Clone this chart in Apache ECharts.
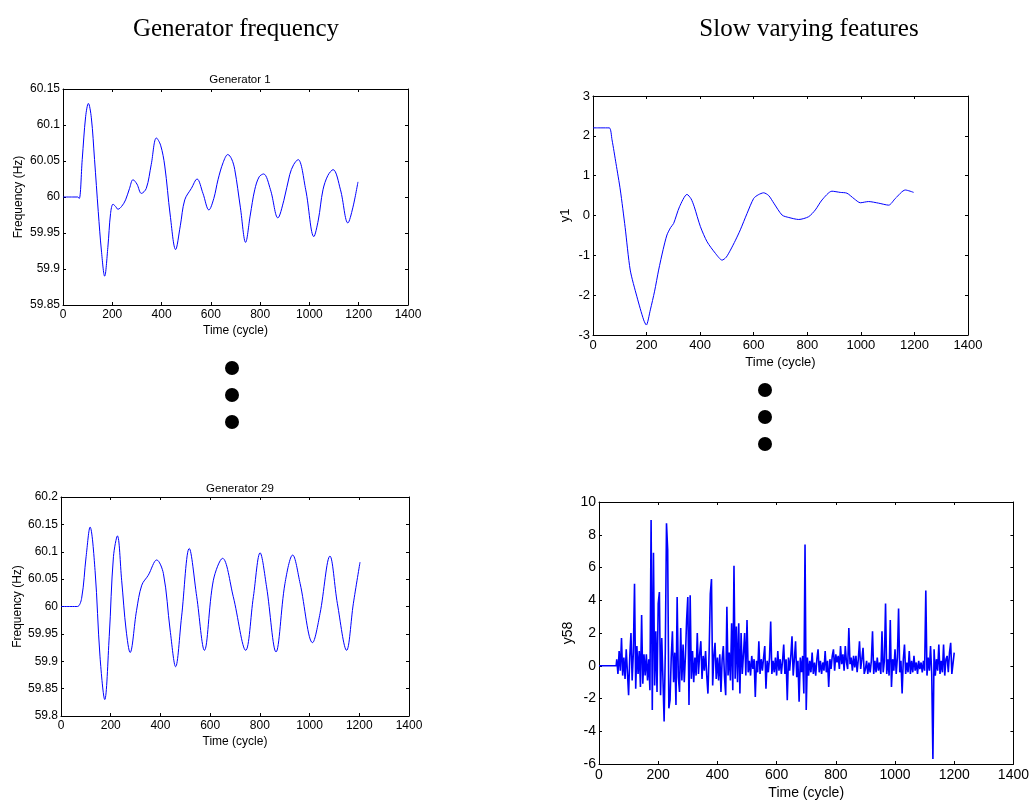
<!DOCTYPE html>
<html>
<head>
<meta charset="utf-8">
<script src="https://cdn.jsdelivr.net/npm/echarts@6/dist/echarts.min.js"></script>
<style>html,body{margin:0;padding:0;background:#fff;}#c{width:1032px;height:802px;}</style>
</head>
<body>
<div id="c"></div>
<script>
// ---- Data ----
const xTicks = [0, 200, 400, 600, 800, 1000, 1200, 1400];
const gen1Time = [0, 40, 60, 66, 78, 92, 103, 115, 128, 143, 156, 169, 182, 193, 203, 213, 223, 238, 254, 270, 284, 300, 318, 338, 358, 379, 396, 413, 435, 457, 476, 494, 521, 544, 568, 592, 612, 629, 650, 669, 684, 697, 720, 741, 760, 778, 796, 814, 842, 872, 896, 920, 936, 954, 985, 1018, 1036, 1055, 1075, 1096, 1126, 1156, 1176, 1197];
const gen1Freq = [60, 60, 60, 59.998, 60.052, 60.112, 60.130, 60.110, 60.052, 59.980, 59.925, 59.890, 59.930, 59.977, 59.990, 59.987, 59.983, 59.987, 59.996, 60.012, 60.024, 60.018, 60.005, 60.012, 60.045, 60.082, 60.072, 60.043, 59.975, 59.927, 59.960, 59.996, 60.012, 60.025, 60.005, 59.982, 59.998, 60.024, 60.048, 60.059, 60.053, 60.038, 59.985, 59.937, 59.975, 60.010, 60.028, 60.032, 60.010, 59.971, 59.995, 60.031, 60.045, 60.052, 60.010, 59.945, 59.968, 60.010, 60.030, 60.038, 60.010, 59.964, 59.985, 60.021];
const gen29Time = [0, 40, 66, 83, 101, 117, 137, 157, 176, 194, 211, 227, 244, 262, 278, 304, 325, 351, 385, 412, 439, 461, 485, 516, 546, 577, 613, 650, 693, 743, 774, 801, 827, 865, 901, 932, 962, 1012, 1042, 1082, 1112, 1149, 1176, 1203];
const gen29Freq = [60, 60, 60, 60.015, 60.091, 60.145, 60.066, 59.908, 59.830, 59.945, 60.091, 60.129, 60.048, 59.957, 59.916, 59.993, 60.039, 60.057, 60.085, 60.060, 59.957, 59.890, 59.981, 60.106, 60.018, 59.920, 60.048, 60.088, 60.018, 59.920, 60.018, 60.098, 60.036, 59.917, 60.042, 60.094, 60.042, 59.934, 59.987, 60.092, 60.005, 59.920, 60.005, 60.081];
const y1Time = [0, 30, 61, 71, 86, 102, 120, 139, 164, 189, 199, 214, 230, 245, 262, 276, 290, 301, 323, 351, 366, 378, 401, 426, 457, 482, 497, 513, 532, 550, 575, 600, 617, 637, 656, 675, 706, 731, 768, 805, 830, 855, 892, 923, 948, 975, 998, 1029, 1066, 1104, 1129, 1166, 1197];
const y1Value = [2.2, 2.2, 2.2, 1.9, 1.3, 0.64, -0.3, -1.37, -2.04, -2.62, -2.75, -2.37, -1.9, -1.37, -0.85, -0.49, -0.3, -0.2, 0.22, 0.53, 0.42, 0.22, -0.28, -0.66, -0.95, -1.12, -1.05, -0.87, -0.62, -0.36, 0.05, 0.43, 0.52, 0.57, 0.50, 0.31, 0.01, -0.05, -0.10, -0.03, 0.14, 0.39, 0.61, 0.58, 0.56, 0.42, 0.32, 0.35, 0.31, 0.26, 0.43, 0.64, 0.58];
const y58Lead = [[0, 0], [58, 0]];
const y58Start = 60;
const y58Step = 4;
const y58Value = [
  0.4, -0.5, 0.9, -0.3, 1.7, -0.6, 0.5, -0.8, 1.0, -0.4,
  -1.8, 0.6, 2.0, -0.9, 0.8, 5.0, -1.4, 1.2, -0.5, 0.9,
  -1.3, 3.1, -1.1, 0.7, -0.6, 0.7, -0.9, 0.4, -1.5, 8.9,
  -2.7, 6.9, -1.2, 2.1, -1.6, 3.8, 4.5, -1.8, 1.7, -0.8,
  -3.4, 0.9, 8.7, 7.1, -2.6, -2.1, 0.5, 2.1, -1.0, 0.8,
  -2.4, 4.2, -0.7, -1.6, 2.3, -0.9, 1.3, -1.0, 0.6, 2.8,
  4.2, -2.4, 4.3, -0.8, 0.9, -1.0, 0.5, -0.6, 2.0, -0.5,
  0.7, 1.5, -0.8, 0.6, -0.3, 0.9, -0.6, -1.7, 0.8, 4.4,
  5.3, -1.2, 0.6, 1.4, -0.8, 0.5, -0.9, 0.7, -1.6, 0.4,
  1.2, -0.7, -1.8, 3.6, -0.6, 0.8, -0.9, 2.6, -1.5, 6.1,
  -0.8, 2.4, -1.0, 2.6, -1.7, 2.0, -0.5, 0.7, 2.0, -0.6,
  2.8, -0.4, 0.3, -0.6, 0.6, -0.2, 0.4, -1.9, 0.3, -0.4,
  1.5, -0.5, 0.4, -0.3, 0.5, 1.2, -1.4, 0.3, -0.4, 0.5,
  2.7, -0.5, 0.3, -0.4, 0.5, -0.6, 0.9, -0.3, 0.4, -0.5,
  0.3, 1.3, -0.5, 0.4, -2.1, 0.5, -0.3, 0.6, 1.8, -0.6,
  0.4, 1.5, -0.7, 0.3, -2.2, 0.5, -0.4, 0.6, -1.7, 7.4,
  -2.7, 0.5, -0.6, 0.3, -0.4, 0.8, -0.5, 0.2, -0.6, 0.4,
  1.0, -0.4, 0.3, -0.5, 0.2, -0.3, 0.9, -0.4, 0.3, -1.3,
  0.4, -0.2, 0.6, 1.0, -0.3, 0.7, 0.2, 0.6, -0.2, 1.2,
  0.1, 0.7, -0.3, 1.2, 0.2, -0.2, 2.3, 0.1, 0.5, -0.3,
  0.6, -0.1, 0.6, -0.4, 0.4, 1.5, -0.2, 0.4, 1.1, -0.5,
  -0.2, 0.3, -0.5, 0.2, -0.4, 0.3, 2.1, -0.5, 0.3, -0.4,
  0.5, -0.3, 0.2, -0.5, 2.1, -0.4, 0.3, 3.8, -0.5, 0.4,
  -0.6, 2.8, -1.3, 0.4, -0.3, 1.0, -0.5, 0.5, 3.5, -0.4,
  0.3, -1.7, 0.4, 1.3, -0.5, 0.2, -0.4, 0.9, -0.5, 0.3,
  -0.4, 0.6, -0.3, 0.2, -0.5, 0.3, -0.2, 0.2, -0.4, 0.3,
  -0.3, 4.6, -0.6, 0.5, -0.3, 1.2, -0.5, -5.7, 1.0, -0.6,
  0.4, -0.3, 1.3, -0.5, 0.3, -0.4, 1.3, -0.6, 0.4, 0.6,
  -0.4, 0.8, 1.4, -0.5, -0.6, 0.8
];

// ---- Build ----
const pair = (t, v) => t.map((x, i) => [x, v[i]]);
const y58Data = y58Lead.concat(y58Value.map((v, i) => [y58Start + i * y58Step, v]));

const grids = [
  {left: 63, top: 89, width: 345, height: 216},
  {left: 61, top: 497, width: 348, height: 219},
  {left: 593, top: 96, width: 375, height: 239},
  {left: 599, top: 502, width: 417, height: 262}
];
const yCfg = [
  {min: 59.85, max: 60.15, interval: 0.05, name: 'Frequency (Hz)', gap: 38, fs: 12, xgap: 20},
  {min: 59.8, max: 60.2, interval: 0.05, name: 'Frequency (Hz)', gap: 37, fs: 12, xgap: 20},
  {min: -3, max: 3, interval: 1, name: 'y1', gap: 21, fs: 13, xgap: 21},
  {min: -6, max: 10, interval: 2, name: 'y58', gap: 24, fs: 14, xgap: 22}
];
const font = 'Liberation Sans, Arial, sans-serif';
const serif = 'Liberation Serif, Times New Roman, serif';
const lineStyle = {color: '#000', width: 1};
const fmt = v => String(+v.toFixed(4));
const xAxes = [], yAxes = [];
grids.forEach((g, i) => {
  const fs = yCfg[i].fs;
  xAxes.push({
    type: 'value', gridIndex: i, min: 0, max: 1400, interval: 200, position: 'bottom',
    name: 'Time (cycle)', nameLocation: 'middle', nameGap: yCfg[i].xgap,
    nameTextStyle: {fontFamily: font, fontSize: fs, color: '#000'},
    axisLine: {show: true, onZero: false, lineStyle},
    axisTick: {inside: true, length: 3, lineStyle},
    axisLabel: {fontFamily: font, fontSize: fs, color: '#000', margin: 4, formatter: fmt},
    splitLine: {show: false}
  });
  xAxes.push({
    type: 'value', gridIndex: i, min: 0, max: 1400, interval: 200, position: 'top',
    axisLine: {show: true, onZero: false, lineStyle},
    axisTick: {inside: true, length: 3, lineStyle},
    axisLabel: {show: false}, splitLine: {show: false}
  });
  yAxes.push({
    type: 'value', gridIndex: i, min: yCfg[i].min, max: yCfg[i].max, interval: yCfg[i].interval,
    position: 'left', name: yCfg[i].name, nameLocation: 'middle', nameGap: yCfg[i].gap,
    nameTextStyle: {fontFamily: font, fontSize: fs, color: '#000'},
    axisLine: {show: true, onZero: false, lineStyle},
    axisTick: {inside: true, length: 3, lineStyle},
    axisLabel: {fontFamily: font, fontSize: fs, color: '#000', margin: 3, formatter: fmt},
    splitLine: {show: false}
  });
  yAxes.push({
    type: 'value', gridIndex: i, min: yCfg[i].min, max: yCfg[i].max, interval: yCfg[i].interval,
    position: 'right',
    axisLine: {show: true, onZero: false, lineStyle},
    axisTick: {inside: true, length: 3, lineStyle},
    axisLabel: {show: false}, splitLine: {show: false}
  });
});
const blue = {color: '#0000ff', width: 1};
const dot = (x, y) => ({type: 'circle', shape: {cx: x, cy: y, r: 7}, style: {fill: '#000'}});

const chart = echarts.init(document.getElementById('c'), null, {renderer: 'canvas'});
chart.setOption({
  animation: false,
  backgroundColor: '#fff',
  title: [
    {text: 'Generator frequency', left: 231, top: 12, textAlign: 'center', textStyle: {fontFamily: serif, fontSize: 25, fontWeight: 'normal', color: '#000'}},
    {text: 'Slow varying features', left: 804, top: 12, textAlign: 'center', textStyle: {fontFamily: serif, fontSize: 25, fontWeight: 'normal', color: '#000'}},
    {text: 'Generator 1', left: 235, top: 69, textAlign: 'center', textStyle: {fontFamily: font, fontSize: 11.5, fontWeight: 'normal', color: '#000'}},
    {text: 'Generator 29', left: 235, top: 478, textAlign: 'center', textStyle: {fontFamily: font, fontSize: 11.5, fontWeight: 'normal', color: '#000'}}
  ],
  grid: grids,
  xAxis: xAxes,
  yAxis: yAxes,
  series: [
    {type: 'line', xAxisIndex: 0, yAxisIndex: 0, data: pair(gen1Time, gen1Freq), smooth: 0.35, showSymbol: false, lineStyle: blue},
    {type: 'line', xAxisIndex: 2, yAxisIndex: 2, data: pair(gen29Time, gen29Freq), smooth: 0.35, showSymbol: false, lineStyle: blue},
    {type: 'line', xAxisIndex: 4, yAxisIndex: 4, data: pair(y1Time, y1Value), smooth: 0.25, showSymbol: false, lineStyle: blue},
    {type: 'line', xAxisIndex: 6, yAxisIndex: 6, data: y58Data, showSymbol: false, lineStyle: {color: '#0000ff', width: 1.6}}
  ],
  graphic: [dot(232, 368), dot(232, 395), dot(232, 422), dot(765, 390), dot(765, 417), dot(765, 444)]
});
</script>
</body>
</html>
